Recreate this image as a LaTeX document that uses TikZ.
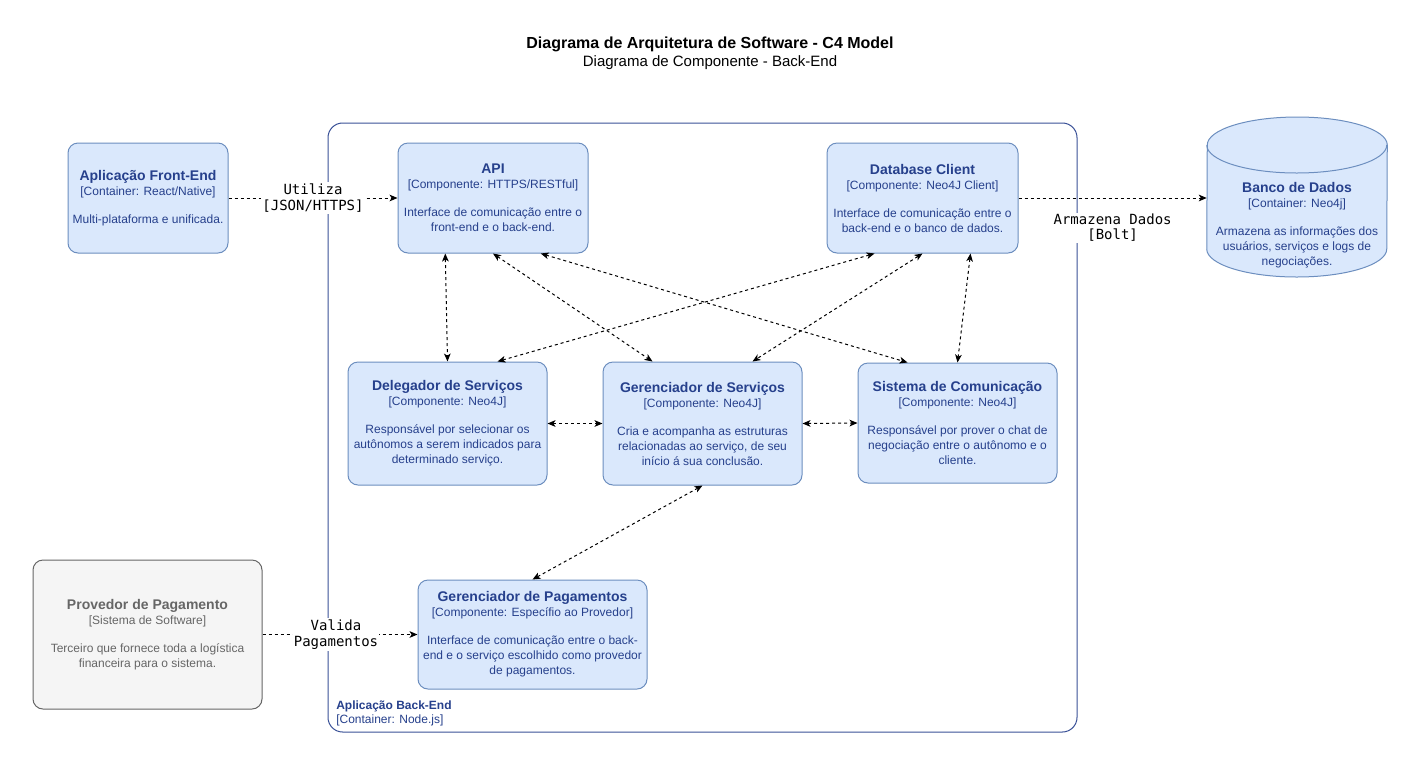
\documentclass[tikz,border=0pt]{standalone}
\usepackage{fontspec}
\setmainfont{Liberation Sans}
\newfontfamily\labelmono{DejaVu Sans Mono}
\usetikzlibrary{arrows.meta,calc}
\definecolor{boxfill}{HTML}{DAE8FC}
\definecolor{boxline}{HTML}{6C8EBF}
\definecolor{boxtext}{HTML}{26408C}
\definecolor{contline}{HTML}{3B5298}
\definecolor{extfill}{HTML}{F5F5F5}
\definecolor{extline}{HTML}{666666}
\definecolor{exttext}{HTML}{666666}
\newcommand\boxtitle[1]{{\fontsize{10.5}{11.25}\selectfont\bfseries #1}}
\begin{document}
\begin{tikzpicture}[x=0.75pt,y=-0.75pt,
  box/.style={draw=boxline, fill=boxfill, rounded corners=7.5pt, text=boxtext, align=center,
    font=\fontsize{9}{11.25}\selectfont, inner sep=0pt, line width=0.75pt},
  extbox/.style={box, draw=extline, fill=extfill, text=exttext},
  tip/.tip={Stealth[length=6pt,width=5pt,inset=1.6pt]},
  rel/.style={dash pattern=on 2.25pt off 2.25pt, line width=0.75pt, -tip},
  birel/.style={rel, tip-tip},
  lbl/.style={font=\labelmono\fontsize{10.5}{12}\selectfont, align=center, fill=white, inner sep=1pt}]

\fill[white] (0,0) rectangle (1420,765);
\useasboundingbox (0,0) rectangle (1420,765);

% titles
\node[font=\bfseries\fontsize{12}{14}\selectfont] (title) at (710,44) {Diagrama de Arquitetura de Software - C4 Model};
\node[font=\fontsize{11.25}{13}\selectfont] (subtitle) at (710,63) {Diagrama de Componente - Back-End};

% container
\node[draw=contline, rounded corners=11pt, line width=0.75pt, minimum width=561.75pt, minimum height=456.75pt, inner sep=0pt] (backend) at (702.5,427.5) {};
\node[anchor=north west, text=boxtext, align=left, font=\fontsize{9}{10.5}\selectfont, inner sep=0pt] (bklabel) at (336,701)
  {\textbf{Aplicação Back-End}\\{[}Container: Node.js{]}};

% top row
\node[box, minimum width=120pt, minimum height=82.5pt] (fe) at (148,198)
  {\boxtitle{Aplicação Front-End}\\{[}Container: React/Native{]}\\[9.75pt]Multi-plataforma e unificada.};
\node[box, minimum width=142.5pt, minimum height=82.5pt] (api) at (493,198)
  {\boxtitle{API}\\{[}Componente: HTTPS/RESTful{]}\\[9.75pt]Interface de comunicação entre o\\front-end e o back-end.};
\node[box, minimum width=143.25pt, minimum height=82.5pt] (dbc) at (922.5,198)
  {\boxtitle{Database Client}\\{[}Componente: Neo4J Client{]}\\[9.75pt]Interface de comunicação entre o\\back-end e o banco de dados.};

% database cylinder
\node[minimum width=135pt, minimum height=120pt, inner sep=0pt] (db) at (1297,197) {};
\filldraw[draw=boxline, fill=boxfill, line width=0.75pt]
  (db.west |- 0,249) arc[start angle=180, end angle=360, x radius=67.5pt, y radius=21pt]
  -- (db.east |- 0,145) arc[start angle=0, end angle=180, x radius=67.5pt, y radius=21pt] -- cycle;
\draw[draw=boxline, line width=0.75pt]
  (db.west |- 0,145) arc[start angle=180, end angle=360, x radius=67.5pt, y radius=21pt];
\node[text=boxtext, align=center, font=\fontsize{9}{11.25}\selectfont, inner sep=0pt] (dbtxt) at (1297,225)
  {\boxtitle{Banco de Dados}\\{[}Container: Neo4j{]}\\[9.75pt]Armazena as informações dos\\usuários, serviços e logs de\\negociações.};

% middle row
\node[box, minimum width=149.25pt, minimum height=92.25pt] (del) at (447.5,423.5)
  {\boxtitle{Delegador de Serviços}\\{[}Componente: Neo4J{]}\\[9.75pt]Responsável por selecionar os\\autônomos a serem indicados para\\determinado serviço.};
\node[box, minimum width=149.25pt, minimum height=92.25pt] (ger) at (702.5,423.5)
  {\boxtitle{Gerenciador de Serviços}\\{[}Componente: Neo4J{]}\\[9.75pt]Cria e acompanha as estruturas\\relacionadas ao serviço, de seu\\início á sua conclusão.};
\node[box, minimum width=149.25pt, minimum height=90pt] (sis) at (957.5,423)
  {\boxtitle{Sistema de Comunicação}\\{[}Componente: Neo4J{]}\\[9.75pt]Responsável por prover o chat de\\negociação entre o autônomo e o\\cliente.};

% bottom
\node[box, minimum width=171.75pt, minimum height=81.75pt] (pag) at (532.5,634.5)
  {\boxtitle{Gerenciador de Pagamentos}\\{[}Componente: Específio ao Provedor{]}\\[9.75pt]Interface de comunicação entre o back-\\end e o serviço escolhido como provedor\\de pagamentos.};
\node[extbox, minimum width=171.75pt, minimum height=111.75pt] (prov) at (147.5,634.5)
  {\boxtitle{Provedor de Pagamento}\\{[}Sistema de Software{]}\\[9.75pt]Terceiro que fornece toda a logística\\financeira para o sistema.};

% external relations
\draw[rel] (fe.east) -- node[lbl] {Utiliza\\{[}JSON/HTTPS{]}} (api.west);
\draw[rel] (dbc.east) -- coordinate[midway] (dbmid) (dbc.east -| db.west);
\node[lbl, align=center, font=\labelmono\fontsize{10.5}{11.25}\selectfont] (dblbl) at ($(dbmid)+(0,30)$) {Armazena Dados\\{[}Bolt{]}};
\draw[rel] (prov.east) -- node[lbl, xshift=-3pt] {Valida\\Pagamentos} (pag.west);

% internal relations
\draw[birel] ($(api.south west)!0.25!(api.south east)$) -- (del.north);
\draw[birel] (api.south) -- ($(ger.north west)!0.25!(ger.north east)$);
\draw[birel] ($(api.south west)!0.75!(api.south east)$) -- ($(sis.north west)!0.25!(sis.north east)$);
\draw[birel] ($(dbc.south west)!0.25!(dbc.south east)$) -- ($(del.north west)!0.75!(del.north east)$);
\draw[birel] (dbc.south) -- ($(ger.north west)!0.75!(ger.north east)$);
\draw[birel] ($(dbc.south west)!0.75!(dbc.south east)$) -- (sis.north);
\draw[birel] (del.east) -- (ger.west);
\draw[birel] (ger.east) -- (sis.west);
\draw[birel] (ger.south) -- (pag.north);
\end{tikzpicture}
\end{document}
